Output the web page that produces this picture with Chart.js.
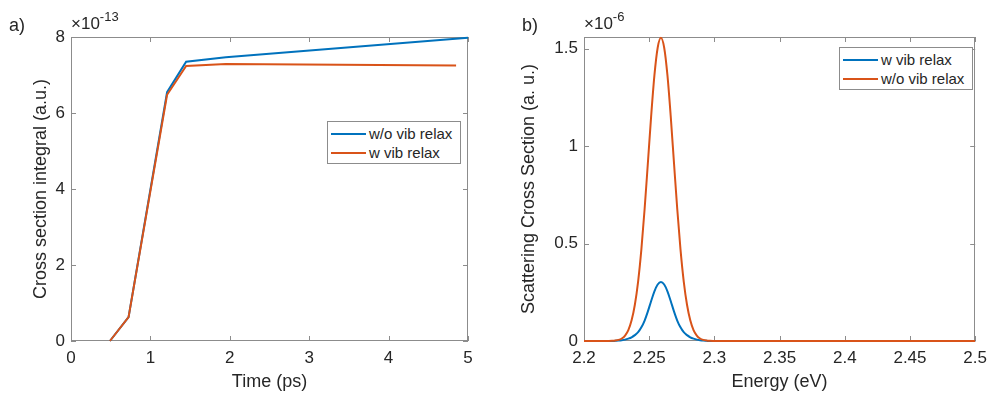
<!DOCTYPE html>
<html>
<head>
<meta charset="utf-8">
<script src="https://cdn.jsdelivr.net/npm/chart.js@4.4.1/dist/chart.umd.min.js"></script>
<style>
  body { margin: 0; background: #fff; font-family: 'Liberation Sans', Arial, sans-serif; color: #262626; }
  #wrap { position: relative; width: 994px; height: 393px; background: #fff; overflow: hidden; }
  .panel { position: absolute; top: 0; width: 497px; height: 393px; }
  .lbl { position: absolute; font-size: 18px; line-height: 20px; white-space: nowrap; }
  .exp { position: absolute; font-size: 17px; line-height: 20px; white-space: nowrap; }
  .exp span { position: relative; top: -8px; font-size: 13px; }
  .legend { position: absolute; border: 1px solid #8c8c8c; background: #fff; box-sizing: border-box; }
  .row { position: absolute; left: 3px; height: 20px; font-size: 15px; line-height: 20px; white-space: nowrap; }
  .row i { display: inline-block; width: 35px; height: 2px; vertical-align: middle; margin-right: 3px; position: relative; top: -1px; }
</style>
</head>
<body>
<div id="wrap">
  <div class="panel" style="left:0"><canvas id="chartA"></canvas></div>
  <div class="panel" style="left:497px"><canvas id="chartB"></canvas></div>
  <div class="lbl" style="left:9px;top:15px">a)</div>
  <div class="lbl" style="left:522px;top:15px">b)</div>
  <div class="exp" style="left:71px;top:14px">×10<span>-13</span></div>
  <div class="exp" style="left:584px;top:14px">×10<span>-6</span></div>
  <div class="legend" id="legA" style="left:327px;top:121px;width:134px;height:43px"></div>
  <div class="legend" id="legB" style="left:839px;top:47px;width:134px;height:43px"></div>
</div>
<script>
// panel a: cross section integral vs time (values in units of 1e-13)
const timeWo = [0.49, 0.725, 1.21, 1.45, 1.95, 5.0];
const integralWo = [0, 0.63, 6.55, 7.35, 7.47, 7.98];
const timeW = [0.49, 0.725, 1.21, 1.45, 1.95, 4.85];
const integralW = [0, 0.63, 6.48, 7.24, 7.29, 7.25];
const xTicksA = [0, 1, 2, 3, 4, 5];
const yTicksA = [0, 2, 4, 6, 8];

// panel b: scattering cross section vs energy (values in units of 1e-6)
const energy = [2.2, 2.21, 2.219, 2.2215, 2.224, 2.2265, 2.229, 2.2315, 2.234, 2.2365, 2.239, 2.2415,
  2.244, 2.2465, 2.249, 2.2515, 2.254, 2.2565, 2.259, 2.2615, 2.264, 2.2665, 2.269, 2.2715, 2.274,
  2.2765, 2.279, 2.2815, 2.284, 2.2865, 2.289, 2.2915, 2.294, 2.2965, 2.299, 2.31, 2.5];
const scatterW = [0, 0, 0, 0, 0.001, 0.002, 0.004, 0.007, 0.012, 0.019, 0.03, 0.045,
  0.07, 0.105, 0.152, 0.205, 0.255, 0.29, 0.303, 0.29, 0.255, 0.205, 0.152, 0.105, 0.07,
  0.045, 0.03, 0.019, 0.012, 0.007, 0.004, 0.002, 0.001, 0, 0, 0, 0];
const scatterWo = [0, 0, 0.0003, 0.0009, 0.0023, 0.0057, 0.013, 0.028, 0.056, 0.106, 0.186, 0.305,
  0.47, 0.678, 0.914, 1.153, 1.362, 1.504, 1.555, 1.504, 1.362, 1.153, 0.914, 0.678, 0.47,
  0.305, 0.186, 0.106, 0.056, 0.028, 0.013, 0.0057, 0.0023, 0.0009, 0.0003, 0, 0];
const xTicksB = [2.2, 2.25, 2.3, 2.35, 2.4, 2.45, 2.5];
const yTicksB = [0, 0.5, 1, 1.5];

const BLUE = '#0072BD';
const ORANGE = '#D95319';
const TXT = '#262626';
const AXIS = '#8c8c8c';
const FONT = "'Liberation Sans', Arial, sans-serif";

function pts(xs, ys) {
  return xs.map((x, i) => ({ x: x, y: ys[i] }));
}

// matlab style box with inward ticks on all four sides
const boxTicks = {
  id: 'boxTicks',
  beforeDatasetsDraw(chart) {
    const { ctx, chartArea: a, scales: { x, y } } = chart;
    ctx.save();
    ctx.strokeStyle = AXIS;
    ctx.lineWidth = 1;
    ctx.strokeRect(Math.round(a.left) + 0.5, Math.round(a.top) + 0.5,
      Math.round(a.width) - 1, Math.round(a.height) - 1);
    ctx.beginPath();
    x.ticks.forEach(t => {
      const px = Math.round(x.getPixelForValue(t.value)) + 0.5;
      ctx.moveTo(px, a.bottom); ctx.lineTo(px, a.bottom - 5);
      ctx.moveTo(px, a.top); ctx.lineTo(px, a.top + 5);
    });
    y.ticks.forEach(t => {
      const py = Math.round(y.getPixelForValue(t.value)) + 0.5;
      ctx.moveTo(a.left, py); ctx.lineTo(a.left + 5, py);
      ctx.moveTo(a.right, py); ctx.lineTo(a.right - 5, py);
    });
    ctx.stroke();
    ctx.restore();
  }
};

function axis(min, max, tickVals, title, isY, titlePad, size) {
  return {
    type: 'linear',
    min: min,
    max: max,
    afterBuildTicks: s => { s.ticks = tickVals.map(v => ({ value: v })); },
    afterFit: s => { if (isY) s.width = size; else s.height = size; },
    grid: { display: false, drawTicks: false },
    border: { display: false },
    ticks: {
      color: TXT,
      font: { family: FONT, size: 17 },
      padding: isY ? 6 : 7,
      maxRotation: 0,
      autoSkip: false,
      callback: v => String(Math.round(v * 1000) / 1000)
    },
    title: {
      display: true,
      text: title,
      color: TXT,
      font: { family: FONT, size: 18 },
      padding: titlePad
    }
  };
}

function makeChart(id, datasets, xs, ys, pad, yWidth, yTitlePad, smooth) {
  return new Chart(document.getElementById(id), {
    type: 'line',
    data: { datasets: datasets },
    options: {
      responsive: true,
      maintainAspectRatio: false,
      animation: false,
      devicePixelRatio: 1,
      layout: { padding: pad },
      elements: {
        point: { radius: 0 },
        line: { borderWidth: 2, tension: 0, cubicInterpolationMode: smooth ? 'monotone' : 'default' }
      },
      plugins: { legend: { display: false }, tooltip: { enabled: false } },
      scales: {
        x: axis(xs.min, xs.max, xs.ticks, xs.title, false, { top: 2, bottom: 0 }, 52),
        y: axis(ys.min, ys.max, ys.ticks, ys.title, true, { top: yTitlePad, bottom: 0 }, yWidth)
      }
    },
    plugins: [boxTicks]
  });
}

makeChart('chartA', [
  { label: 'w/o vib relax', data: pts(timeWo, integralWo), borderColor: BLUE, order: 1, clip: 2 },
  { label: 'w vib relax', data: pts(timeW, integralW), borderColor: ORANGE, order: 0, clip: 2 }
], { min: 0, max: 5, ticks: xTicksA, title: 'Time (ps)' },
   { min: 0, max: 8, ticks: yTicksA, title: 'Cross section integral (a.u.)' },
   { left: 0, right: 29, top: 37, bottom: 0 }, 71, 30, false);

makeChart('chartB', [
  { label: 'w vib relax', data: pts(energy, scatterW), borderColor: BLUE, order: 1, clip: 2 },
  { label: 'w/o vib relax', data: pts(energy, scatterWo), borderColor: ORANGE, order: 0, clip: 2 }
], { min: 2.2, max: 2.5, ticks: xTicksB, title: 'Energy (eV)' },
   { min: 0, max: 1.559, ticks: yTicksB, title: 'Scattering Cross Section (a. u.)' },
   { left: 0, right: 12, top: 37, bottom: 0 }, 87, 21, true);

// legends
function legend(id, names, colors) {
  const box = document.getElementById(id);
  names.forEach((n, i) => {
    const r = document.createElement('div');
    r.className = 'row';
    r.style.top = (2 + i * 19) + 'px';
    r.innerHTML = '<i style="background:' + colors[i] + '"></i>' + n;
    box.appendChild(r);
  });
}
legend('legA', ['w/o vib relax', 'w vib relax'], [BLUE, ORANGE]);
legend('legB', ['w vib relax', 'w/o vib relax'], [BLUE, ORANGE]);
</script>
</body>
</html>
